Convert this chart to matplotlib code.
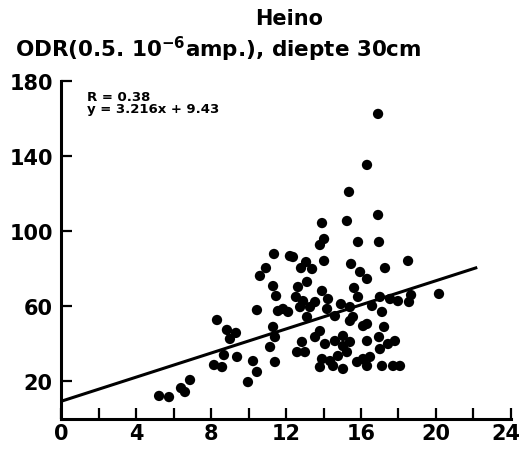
import numpy as np
import matplotlib.transforms as mtransforms
from matplotlib import pyplot as plt

# values (x, ODR)
odr_x = [5.23, 5.76, 6.40, 6.61, 6.88, 8.32, 8.85, 9.33, 9.01, 8.69,
         8.16, 8.59, 9.39, 10.24, 10.45, 9.97, 11.41, 11.31, 11.41, 11.15,
         10.45, 11.57, 12.11, 11.31, 11.47, 10.61, 10.93, 11.36, 12.21, 16.91,
         16.32, 15.36, 13.92, 15.25, 16.91, 14.03, 13.81, 15.84, 16.96, 12.37,
         13.07, 12.80, 13.39, 14.03, 15.47, 15.95, 16.32, 17.28, 18.51, 13.12,
         12.64, 12.53, 12.91, 12.75, 13.28, 13.92, 14.24, 15.63, 15.84, 20.16,
         18.67, 18.56, 17.01, 17.55, 17.97, 14.93, 15.41, 17.12, 11.84, 14.19,
         13.12, 14.61, 15.57, 16.32, 16.59, 16.11, 17.23, 15.41, 16.32, 16.96,
         17.81, 17.44, 17.01, 15.04, 16.11, 14.51, 15.04, 17.12, 17.71, 18.08,
         15.79, 16.48, 13.81, 13.55, 12.85, 12.59, 13.01, 14.08, 14.61, 15.04,
         15.41, 15.25, 14.77, 13.92, 14.35, 13.81, 16.32, 13.55]
odr_y = [12.3, 11.7, 16.5, 14.4, 20.8, 52.8, 47.5, 45.9, 42.7, 34.1,
         28.8, 27.7, 33.1, 30.9, 25.1, 19.7, 30.4, 49.1, 43.7, 38.4,
         58.1, 57.6, 57.1, 70.9, 65.6, 76.3, 80.5, 88.0, 86.9, 162.7,
         135.5, 121.1, 104.5, 105.6, 108.8, 96.0, 92.8, 94.4, 94.4, 86.4,
         83.7, 80.5, 80.0, 84.3, 82.7, 78.4, 74.7, 80.5, 84.3, 73.1,
         70.4, 65.1, 62.9, 59.7, 59.7, 68.3, 64.0, 69.9, 65.1, 66.7,
         66.1, 62.4, 65.1, 64.0, 62.9, 61.3, 59.7, 57.1, 58.7, 58.7,
         54.4, 54.9, 54.4, 50.7, 60.3, 49.6, 49.1, 52.3, 41.6, 43.7,
         41.6, 40.0, 37.3, 38.9, 32.0, 28.3, 26.7, 28.3, 28.3, 28.3,
         30.4, 33.1, 46.9, 43.7, 41.1, 35.7, 35.7, 40.0, 41.6, 44.3,
         41.1, 35.7, 33.6, 32.0, 30.9, 27.7, 28.3, 62.4]

slope = 3.216
intercept = 9.43
line_x = [0, 22.2]

x_ticks = [0, 2, 4, 6, 8, 10, 12, 14, 16, 18, 20, 22, 24]
x_labels = ['0', '', '4', '', '8', '', '12', '', '16', '', '20', '', '24']
y_ticks = [20, 60, 100, 140, 180]

plt.rcParams['font.family'] = 'DejaVu Sans'

fig = plt.figure(figsize=(5.22, 4.52), dpi=100)
ax = fig.add_axes([0.1169, 0.0708, 0.862, 0.7467])

# regression line
lx = np.array(line_x)
ax.plot(lx, slope * lx + intercept, color='black', lw=2.2, solid_capstyle='butt', zorder=2)

# the measurements
ax.scatter(odr_x, odr_y, s=55, color='black', edgecolors='none', zorder=3, clip_on=False)

ax.set_xlim(0, 24)
ax.set_ylim(0, 180)
ax.spines['top'].set_visible(False)
ax.spines['right'].set_visible(False)
for side in ['left', 'bottom']:
    ax.spines[side].set_linewidth(2.2)

ax.set_xticks(x_ticks)
ax.set_xticklabels(x_labels)
ax.set_yticks(y_ticks)
ax.tick_params(direction='in', length=8, width=1.6, labelsize=15, pad=6)
ax.tick_params(axis='x', pad=3)
for lab in ax.get_xticklabels() + ax.get_yticklabels():
    lab.set_fontweight('bold')

# last x label sits a bit left so it stays inside the picture
last = ax.get_xticklabels()[-1]
last.set_transform(last.get_transform() + mtransforms.ScaledTranslation(-5 / 100, 0, fig.dpi_scale_trans))

ax.text(1.4, 175.5, 'R = 0.38\ny = 3.216x + 9.43', fontsize=9.5, fontweight='bold',
        va='top', ha='left', linespacing=0.95)

fig.text(0.554, 0.957, 'Heino', fontsize=15, fontweight='bold', ha='center', va='center')
fig.text(0.029, 0.873, r'ODR(0.5. 10$^{\mathbf{-6}}$amp.), diepte 30cm', fontsize=15.5,
         fontweight='bold', ha='left', va='baseline')

plt.savefig('out.png', dpi=100)
